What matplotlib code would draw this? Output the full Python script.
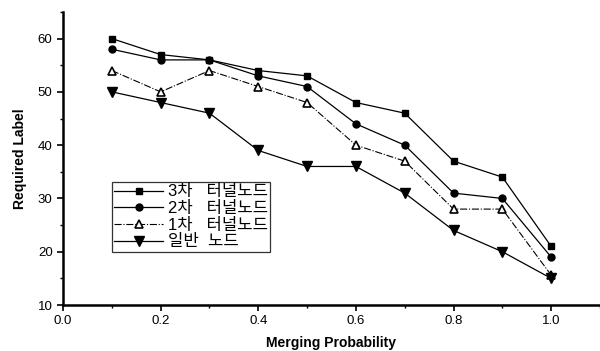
import matplotlib
matplotlib.use("Agg")
import matplotlib.pyplot as plt
from matplotlib.ticker import MultipleLocator

plt.rcParams['font.family'] = ['Liberation Sans', 'Noto Sans CJK KR', 'DejaVu Sans']

x = [0.1, 0.2, 0.3, 0.4, 0.5, 0.6, 0.7, 0.8, 0.9, 1.0]
tunnel3 = [60, 57, 56, 54, 53, 48, 46, 37, 34, 21]
tunnel2 = [58, 56, 56, 53, 51, 44, 40, 31, 30, 19]
tunnel1 = [54, 50, 54, 51, 48, 40, 37, 28, 28, 15.6]
normal = [50, 48, 46, 39, 36, 36, 31, 24, 20, 15]

labels = ["3차   터널노드", "2차   터널노드", "1차   터널노드", "일반  노드"]

fig = plt.figure(figsize=(6, 3.51), dpi=100)
ax = fig.add_axes([0.105, 0.131, 0.895, 0.835])

ax.plot(x, tunnel3, '-', color='black', lw=0.9, marker='s', ms=5, label=labels[0])
ax.plot(x, tunnel2, '-', color='black', lw=0.9, marker='o', ms=5, label=labels[1])
ax.plot(x, tunnel1, '-.', color='black', lw=0.8, marker='^', ms=6,
        markerfacecolor='white', markeredgewidth=1.2, label=labels[2])
ax.plot(x, normal, '-', color='black', lw=0.9, marker='v', ms=6.5, label=labels[3])

ax.set_xlim(0, 1.1)
ax.set_ylim(10, 65)
ax.xaxis.set_major_locator(MultipleLocator(0.2))
ax.xaxis.set_minor_locator(MultipleLocator(0.1))
ax.yaxis.set_major_locator(MultipleLocator(10))
ax.yaxis.set_minor_locator(MultipleLocator(5))
ax.set_xticks([0.0, 0.2, 0.4, 0.6, 0.8, 1.0])
ax.set_xticklabels(["0.0", "0.2", "0.4", "0.6", "0.8", "1.0"])

for s in ['top', 'right']:
    ax.spines[s].set_visible(False)
for s in ['left', 'bottom']:
    ax.spines[s].set_linewidth(1.8)

ax.tick_params(which='major', direction='out', length=4, width=1.2, labelsize=9.5)
ax.tick_params(which='minor', direction='out', length=2.5, width=1)

ax.set_xlabel("Merging Probability", fontsize=10, fontweight='bold', labelpad=6)
ax.set_ylabel("Required Label", fontsize=10, fontweight='bold', labelpad=8)

leg = ax.legend(loc='upper left', bbox_to_anchor=(0.091, 0.42), fontsize=12,
                frameon=True, fancybox=False, edgecolor='black', handlelength=2.9,
                borderpad=0.15, labelspacing=0.1, handletextpad=0.3, borderaxespad=0)
leg.get_frame().set_linewidth(0.9)

fig.savefig("out.png", dpi=100)
